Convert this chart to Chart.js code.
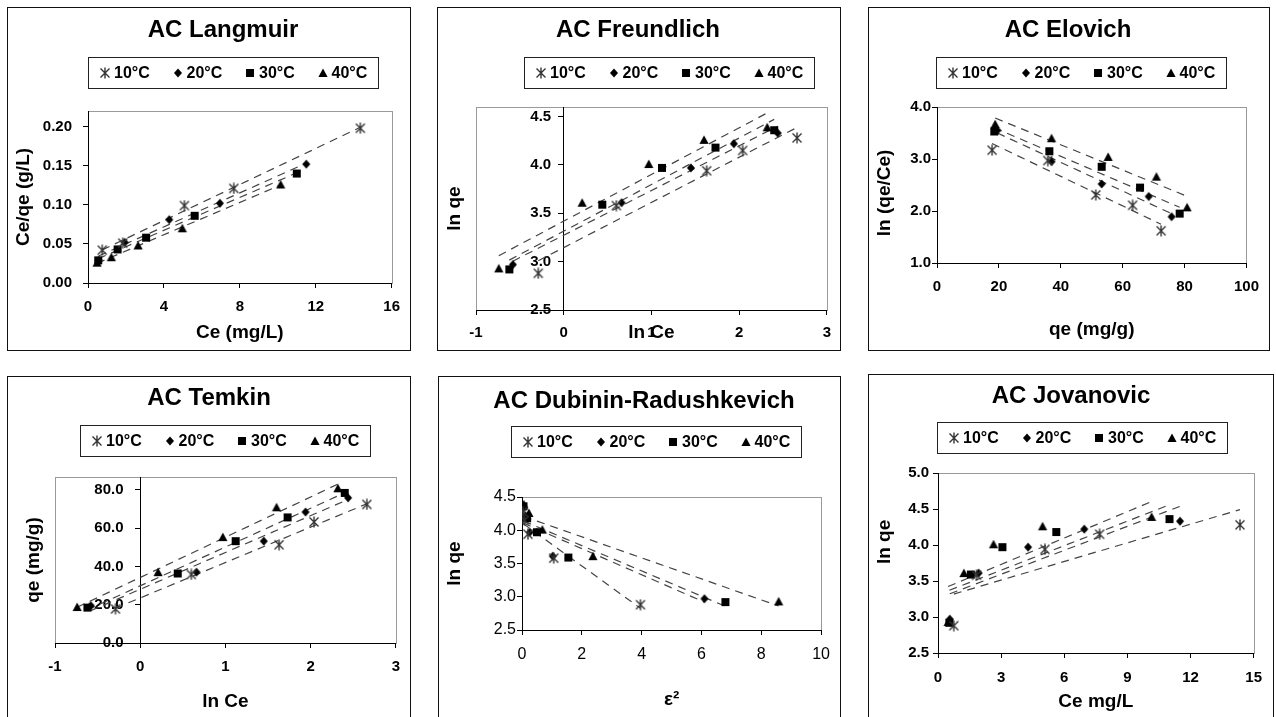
<!DOCTYPE html>
<html>
<head>
<meta charset="utf-8">
<script src="https://cdn.jsdelivr.net/npm/chart.js@4.4.1/dist/chart.umd.min.js"></script>
<style>
  body { margin: 0; background: #fff; width: 1276px; height: 717px; overflow: hidden; position: relative; }
  .panel { position: absolute; border: 1px solid #111; box-sizing: border-box; background: #fff; }
  .panel canvas { position: absolute; left: 0; top: 0; }
</style>
</head>
<body>
<div class="panel" id="p1"><canvas></canvas></div>
<div class="panel" id="p2"><canvas></canvas></div>
<div class="panel" id="p3"><canvas></canvas></div>
<div class="panel" id="p4"><canvas></canvas></div>
<div class="panel" id="p5"><canvas></canvas></div>
<div class="panel" id="p6"><canvas></canvas></div>
<script>
const temps = ["10°C", "20°C", "30°C", "40°C"];

// rows: 10, 20, 30, 40 °C
const ce = [
  [0.75, 1.83, 5.08, 7.68, 14.35],
  [0.56, 1.93, 4.28, 6.95, 11.5],
  [0.54, 1.56, 3.06, 5.62, 11.0],
  [0.48, 1.23, 2.64, 4.97, 10.15]
];
const qe = [
  [17.8, 35.8, 51.3, 63.2, 72.4],
  [19.5, 37.0, 53.2, 68.4, 75.8],
  [18.5, 36.3, 53.2, 65.6, 78.4],
  [18.8, 37.0, 55.3, 70.9, 80.8]
];
const lnCe = [
  [-0.29, 0.60, 1.63, 2.04, 2.66],
  [-0.58, 0.66, 1.45, 1.94, 2.44],
  [-0.62, 0.44, 1.12, 1.73, 2.40],
  [-0.74, 0.21, 0.97, 1.60, 2.32]
];
const lnQe = [
  [2.88, 3.58, 3.94, 4.15, 4.28],
  [2.97, 3.61, 3.97, 4.22, 4.33],
  [2.92, 3.59, 3.97, 4.18, 4.36],
  [2.93, 3.61, 4.01, 4.26, 4.39]
];
const ceQe = [
  [0.042, 0.051, 0.099, 0.121, 0.198],
  [0.029, 0.052, 0.081, 0.102, 0.152],
  [0.029, 0.043, 0.058, 0.086, 0.140],
  [0.026, 0.033, 0.048, 0.070, 0.126]
];
const lnQeCe = [
  [3.17, 2.97, 2.31, 2.11, 1.62],
  [3.55, 2.95, 2.52, 2.28, 1.89],
  [3.53, 3.15, 2.85, 2.45, 1.95],
  [3.67, 3.40, 3.04, 2.66, 2.07]
];
const eps2 = [
  [3.96, 1.06, 0.20, 0.08, 0.03],
  [6.10, 1.03, 0.26, 0.11, 0.04],
  [6.80, 1.55, 0.50, 0.17, 0.05],
  [8.58, 2.37, 0.68, 0.23, 0.06]
];

const FONT = '"Liberation Sans", Arial, sans-serif';
Chart.defaults.font.family = FONT;
Chart.defaults.color = "#000";

// least squares trendline over the series x range (like the Excel trendlines)
function fitLine(xs, ys) {
  const n = xs.length;
  const mx = xs.reduce((a, b) => a + b, 0) / n;
  const my = ys.reduce((a, b) => a + b, 0) / n;
  let sxy = 0, sxx = 0;
  xs.forEach((x, i) => { sxy += (x - mx) * (ys[i] - my); sxx += (x - mx) * (x - mx); });
  const b = sxy / sxx, a = my - b * mx;
  const x0 = Math.min(...xs), x1 = Math.max(...xs);
  return [{ x: x0, y: a + b * x0 }, { x: x1, y: a + b * x1 }];
}

function makeMarker(kind) {
  const s = 12, m = 6;
  const c = document.createElement("canvas");
  c.width = c.height = s;
  const g = c.getContext("2d");
  g.fillStyle = "#000";
  g.beginPath();
  if (kind === "star") {
    g.strokeStyle = "#333";
    g.lineWidth = 1.4;
    g.moveTo(m, 0.5); g.lineTo(m, 11.5);
    g.moveTo(1.5, 1.5); g.lineTo(10.5, 10.5);
    g.moveTo(10.5, 1.5); g.lineTo(1.5, 10.5);
    g.stroke();
  } else if (kind === "diamond") {
    g.moveTo(m, m - 4.5); g.lineTo(m + 4, m); g.lineTo(m, m + 4.5); g.lineTo(m - 4, m);
    g.fill();
  } else if (kind === "square") {
    g.fillRect(2, 2, 8, 8);
  } else {
    g.moveTo(m, 1.5); g.lineTo(m + 4.6, 10); g.lineTo(m - 4.6, 10);
    g.fill();
  }
  return c;
}
const markers = [makeMarker("star"), makeMarker("diamond"), makeMarker("square"), makeMarker("tri")];

// title, legend box and grey plot frame
const decor = {
  id: "decor",
  beforeDraw(chart, args, o) {
    const { ctx, chartArea: a } = chart;
    ctx.save();
    ctx.strokeStyle = "#9a9a9a";
    ctx.lineWidth = 1;
    ctx.strokeRect(Math.round(a.left) + 0.5, Math.round(a.top) + 0.5,
      Math.round(a.right - a.left), Math.round(a.bottom - a.top));
    ctx.restore();
  },
  afterDraw(chart, args, o) {
    const ctx = chart.ctx;
    ctx.save();
    ctx.fillStyle = "#000";
    ctx.font = "bold 24px " + FONT;
    ctx.textAlign = "center";
    ctx.textBaseline = "middle";
    ctx.fillText(o.title, o.titleX, o.titleY);
    ctx.strokeStyle = "#222";
    ctx.lineWidth = 1;
    ctx.strokeRect(o.legX + 0.5, o.legY + 0.5, 290, 31);
    ctx.font = "bold 16px " + FONT;
    ctx.textAlign = "left";
    chart.data.datasets.filter(d => !d.trend).forEach((d, i) => {
      const mx = o.legX + 17 + i * 72.5, my = o.legY + 16;
      ctx.drawImage(d.pointStyle, Math.round(mx - 6), Math.round(my - 6));
      ctx.fillText(d.label, mx + 9, my + 1);
    });
    ctx.restore();
  }
};

function fmt(v, dec) { return Number(v).toFixed(dec); }

function makePanel(p) {
  const div = document.getElementById(p.id);
  const [bl, bt, bw, bh] = p.box;
  Object.assign(div.style, { left: bl + "px", top: bt + "px", width: bw + "px", height: bh + "px" });
  const cv = div.querySelector("canvas");
  const W = bw - 2, H = bh - 2, ox = bl + 1, oy = bt + 1;
  cv.width = W; cv.height = H;
  const al = p.area[0] - ox, at = p.area[1] - oy, ar = p.area[2] - ox, ab = p.area[3] - oy;
  const tickFont = { size: p.tickSize || 15, weight: p.tickWeight || "bold" };
  const axTitleFont = { size: 19, weight: "bold" };
  const half = 19 * 1.2 / 2;
  const xH = p.x.titleY - oy - ab + half;

  const datasets = [];
  p.xs.forEach((xr, i) => {
    const yr = p.ys[i];
    datasets.push({
      label: temps[i], data: xr.map((v, k) => ({ x: v, y: yr[k] })),
      pointStyle: markers[i], pointRadius: 5, showLine: false, order: 1
    });
    datasets.push({
      label: temps[i] + " fit", trend: true, data: fitLine(xr, yr), showLine: true,
      borderColor: "#444", borderWidth: 1.2, borderDash: [8, 6], pointRadius: 0, order: 2
    });
  });

  const tickGrid = { display: true, drawOnChartArea: false, drawTicks: true, tickLength: 5, tickColor: "#000" };
  // labels of an axis placed at x = 0 sit flush on the line, so pad them with spaces
  const gap = " ".repeat(p.y.spaces || 0);
  const yLabels = {
    font: tickFont, color: "#000", padding: p.y.pad, autoSkip: false,
    callback: v => fmt(v, p.y.dec) + gap
  };
  const yTicksFn = a => { a.ticks = p.y.ticks.map(v => ({ value: v })); };
  // the y title is not always centred on the plot; shift it with spaces (text runs bottom-to-top)
  const yTitle = " ".repeat(p.y.lead || 0) + p.y.title + " ".repeat(p.y.trail || 0);
  const scales = {
    x: {
      type: "linear", min: p.x.min, max: p.x.max,
      afterBuildTicks: a => { a.ticks = p.x.ticks.map(v => ({ value: v })); },
      afterFit: a => { a.height = xH; },
      grid: tickGrid,
      border: { display: true, color: "#000", width: 1 },
      ticks: { font: tickFont, color: "#000", padding: p.x.pad, maxRotation: 0, autoSkip: false,
        callback: v => fmt(v, p.x.dec) },
      title: { display: true, text: p.x.title, font: axTitleFont, color: "#000", padding: 0 }
    },
    y: {
      type: "linear", position: "left", min: p.y.min, max: p.y.max,
      afterBuildTicks: yTicksFn,
      afterFit: a => { a.width = al; },
      grid: p.yAtZero ? { display: false } : tickGrid,
      border: { display: !p.yAtZero, color: "#000", width: 1 },
      ticks: p.yAtZero ? { display: false } : yLabels,
      title: { display: true, text: yTitle, font: axTitleFont, color: "#000",
        padding: { top: p.y.titleX - ox - half, bottom: 0 } }
    }
  };
  if (p.yAtZero) {
    scales.y2 = {
      type: "linear", axis: "y", position: { x: 0 }, min: p.y.min, max: p.y.max,
      afterBuildTicks: yTicksFn,
      grid: tickGrid,
      border: { display: true, color: "#000", width: 1 },
      ticks: yLabels
    };
  }

  return new Chart(cv, {
    type: "scatter",
    data: { datasets },
    options: {
      responsive: false,
      animation: false,
      layout: { padding: { left: 0, top: at, right: W - ar, bottom: H - ab - xH } },
      scales,
      plugins: {
        legend: { display: false },
        tooltip: { enabled: false },
        decor: {
          title: p.title, titleX: p.titlePos[0] - ox, titleY: p.titlePos[1] - oy,
          legX: p.legend[0] - ox, legY: p.legend[1] - oy
        }
      }
    },
    plugins: [decor]
  });
}

makePanel({
  id: "p1", box: [7, 7, 404, 344], area: [88, 111, 396, 283],
  title: "AC Langmuir", titlePos: [223, 30], legend: [88, 57],
  xs: ce, ys: ceQe,
  x: { min: 0, max: 16, ticks: [0, 4, 8, 12, 16], dec: 0, pad: 10, title: "Ce (mg/L)", titleY: 333 },
  y: { min: 0, max: 0.22, ticks: [0, 0.05, 0.1, 0.15, 0.2], dec: 2, pad: 11, title: "Ce/qe (g/L)", titleX: 24 }
});
makePanel({
  id: "p2", box: [437, 7, 404, 344], area: [476, 107, 827, 310],
  title: "AC Freundlich", titlePos: [638, 30], legend: [524, 57],
  xs: lnCe, ys: lnQe, yAtZero: true,
  x: { min: -1, max: 3, ticks: [-1, 0, 1, 2, 3], dec: 0, pad: 9, title: "ln Ce", titleY: 333 },
  y: { min: 2.5, max: 4.6, ticks: [2.5, 3.0, 3.5, 4.0, 4.5], dec: 1, pad: 6, spaces: 3, title: "ln qe", titleX: 455 }
});
makePanel({
  id: "p3", box: [868, 7, 402, 344], area: [937, 107, 1254, 263],
  title: "AC Elovich", titlePos: [1068, 30], legend: [936, 57],
  xs: qe, ys: lnQeCe,
  x: { min: 0, max: 100, ticks: [0, 20, 40, 60, 80, 100], dec: 0, pad: 10, title: "qe (mg/g)", titleY: 330 },
  y: { min: 1, max: 4, ticks: [1, 2, 3, 4], dec: 1, pad: 1, title: "ln (qe/Ce)", trail: 3, titleX: 885 }
});
makePanel({
  id: "p4", box: [7, 376, 404, 350], area: [55, 477, 396, 643],
  title: "AC Temkin", titlePos: [209, 398], legend: [80, 425],
  xs: lnCe, ys: qe, yAtZero: true,
  x: { min: -1, max: 3, ticks: [-1, 0, 1, 2, 3], dec: 0, pad: 10, title: "ln Ce", titleY: 702 },
  y: { min: 0, max: 86.7, ticks: [0, 20, 40, 60, 80], dec: 1, pad: 4, spaces: 4, title: "qe (mg/g)", titleX: 34 }
});
makePanel({
  id: "p5", box: [438, 376, 403, 350], area: [522, 497, 829, 630],
  title: "AC Dubinin-Radushkevich", titlePos: [644, 401], legend: [511, 426],
  xs: eps2, ys: lnQe, tickSize: 16, tickWeight: "normal",
  x: { min: 0, max: 10, ticks: [0, 2, 4, 6, 8, 10], dec: 0, pad: 10, title: "ε²", titleY: 700 },
  y: { min: 2.5, max: 4.5, ticks: [2.5, 3.0, 3.5, 4.0, 4.5], dec: 1, pad: 1, title: "ln qe", titleX: 455 }
});
makePanel({
  id: "p6", box: [868, 374, 406, 352], area: [938, 473, 1257, 653],
  title: "AC Jovanovic", titlePos: [1071, 396], legend: [937, 422],
  xs: ce, ys: lnQe,
  x: { min: 0, max: 15, ticks: [0, 3, 6, 9, 12, 15], dec: 0, pad: 11, title: "Ce mg/L", titleY: 702 },
  y: { min: 2.5, max: 5.0, ticks: [2.5, 3.0, 3.5, 4.0, 4.5, 5.0], dec: 1, pad: 4, lead: 8, title: "ln qe", titleX: 885 }
});
</script>
</body>
</html>
